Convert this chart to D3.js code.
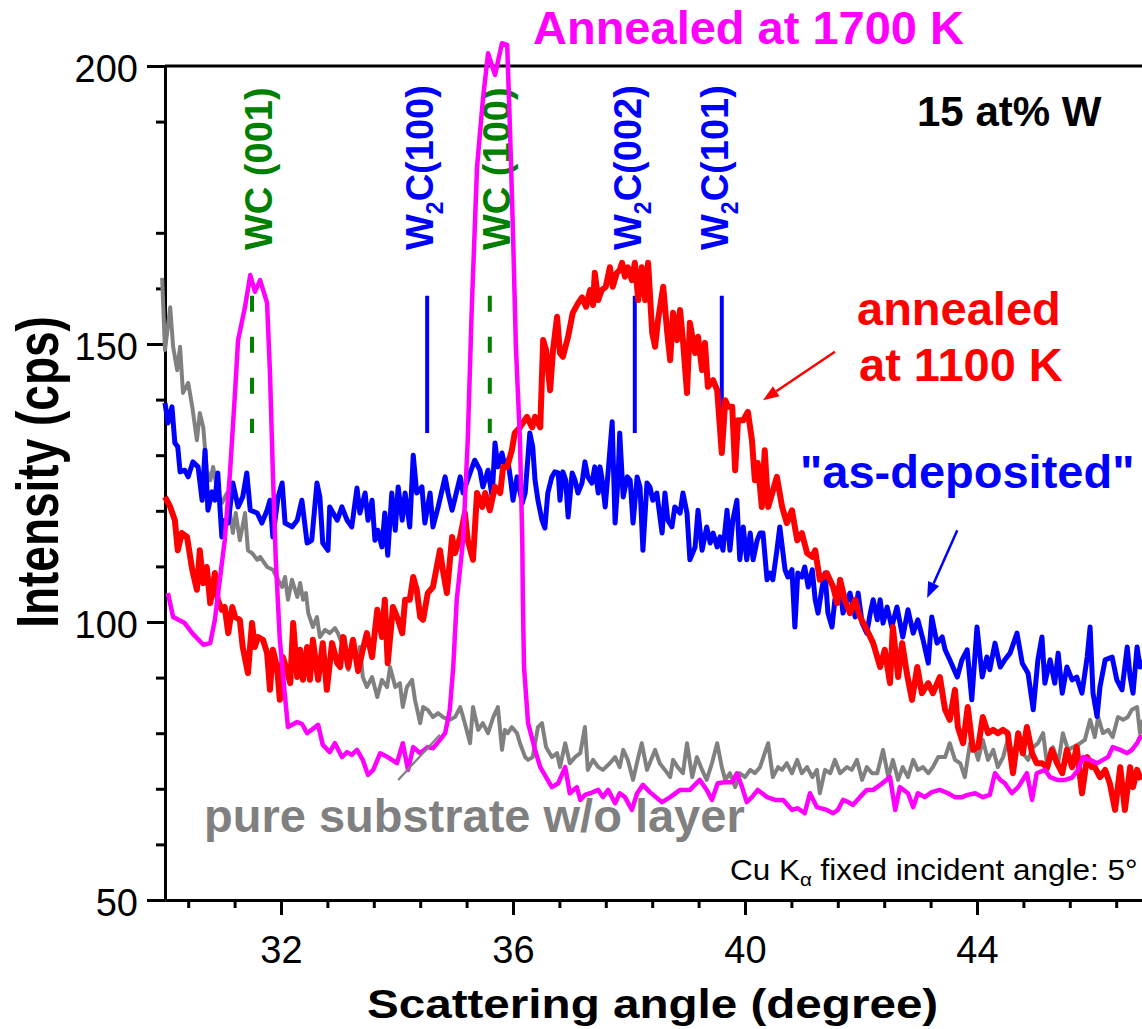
<!DOCTYPE html>
<html>
<head>
<meta charset="utf-8">
<script src="https://cdn.jsdelivr.net/npm/d3@7"></script>
<style>
  body { margin: 0; background: #fff; }
  svg { display: block; }
  text { font-family: "Liberation Sans", Arial, Helvetica, sans-serif; }
</style>
</head>
<body>
<svg id="chart" width="1142" height="1029"></svg>
<script>
// XRD scans, [scattering angle (deg), intensity (cps)]
const asDeposited = [
  [30.00,139.4],[30.05,135.8],[30.12,138.7],[30.17,132.2],[30.22,131.5],[30.26,127.0],[30.34,127.3],[30.40,126.1],[30.48,128.8],[30.57,127.9],
  [30.64,121.9],[30.69,130.9],[30.74,120.1],[30.81,123.4],[30.86,121.9],[30.91,126.8],[30.98,115.3],[31.03,118.3],[31.09,117.8],[31.17,125.0],
  [31.26,120.7],[31.34,122.5],[31.41,126.8],[31.47,120.1],[31.59,119.6],[31.67,117.8],[31.76,120.1],[31.81,121.9],[31.86,115.3],[31.95,122.5],
  [32.02,125.0],[32.07,117.8],[32.19,117.1],[32.28,118.3],[32.36,121.9],[32.45,114.2],[32.53,114.7],[32.62,125.0],[32.67,122.5],[32.72,114.2],
  [32.81,112.9],[32.84,120.7],[32.97,118.3],[33.05,120.7],[33.14,118.3],[33.22,117.1],[33.31,124.1],[33.36,119.6],[33.45,123.2],[33.50,118.3],
  [33.57,121.9],[33.62,114.7],[33.67,116.5],[33.74,113.5],[33.79,119.6],[33.84,112.0],[33.91,123.2],[33.97,116.5],[34.02,124.3],[34.09,118.3],
  [34.14,123.2],[34.22,117.1],[34.28,130.0],[34.34,123.2],[34.43,124.3],[34.48,117.8],[34.57,123.2],[34.62,117.1],[34.71,120.7],[34.83,126.1],
  [34.88,123.2],[34.95,120.1],[35.09,126.1],[35.14,123.2],[35.26,126.8],[35.34,129.1],[35.43,127.3],[35.48,124.3],[35.57,127.3],[35.64,122.5],
  [35.69,132.2],[35.74,127.9],[35.81,130.4],[35.86,127.9],[35.91,129.1],[35.96,125.5],[36.00,121.9],[36.07,126.1],[36.16,121.4],[36.21,123.2],
  [36.29,134.0],[36.34,131.5],[36.38,125.5],[36.43,121.9],[36.50,118.3],[36.55,116.9],[36.60,123.2],[36.67,126.1],[36.72,127.0],[36.78,126.8],
  [36.81,121.9],[36.86,127.0],[36.91,125.5],[36.95,118.9],[37.02,126.8],[37.07,125.5],[37.12,123.2],[37.19,125.0],[37.24,128.8],[37.29,126.1],
  [37.36,125.0],[37.41,127.9],[37.47,123.2],[37.50,127.9],[37.53,126.1],[37.59,120.7],[37.64,127.0],[37.71,136.0],[37.76,117.8],[37.81,125.5],
  [37.84,134.0],[37.90,122.5],[37.97,126.1],[38.02,125.5],[38.07,117.8],[38.14,126.1],[38.19,124.3],[38.24,112.9],[38.31,125.0],[38.36,124.3],
  [38.41,121.9],[38.48,123.2],[38.57,116.0],[38.62,123.2],[38.67,118.3],[38.74,117.1],[38.79,120.7],[38.88,119.6],[38.93,123.2],[39.00,119.6],
  [39.05,111.2],[39.14,113.5],[39.19,120.1],[39.26,112.9],[39.34,117.1],[39.40,114.2],[39.45,116.0],[39.52,113.5],[39.57,115.3],[39.62,112.9],
  [39.69,120.1],[39.74,112.9],[39.79,118.3],[39.86,121.9],[39.91,111.2],[39.97,117.1],[40.03,111.2],[40.09,116.0],[40.14,111.2],[40.21,114.7],
  [40.26,116.0],[40.31,116.0],[40.38,107.6],[40.43,108.8],[40.48,107.6],[40.55,112.9],[40.60,117.1],[40.69,109.4],[40.74,108.1],[40.81,109.4],
  [40.86,99.1],[40.91,108.8],[40.98,108.1],[41.03,109.9],[41.09,106.3],[41.16,109.4],[41.21,104.0],[41.26,101.6],[41.33,106.3],[41.38,108.8],
  [41.43,101.6],[41.50,99.1],[41.55,104.0],[41.64,106.3],[41.69,101.6],[41.76,104.0],[41.81,105.2],[41.90,100.9],[41.95,105.2],[42.02,99.8],
  [42.10,98.0],[42.16,101.6],[42.21,104.0],[42.28,100.4],[42.33,104.0],[42.38,99.8],[42.45,102.7],[42.53,99.1],[42.62,102.7],[42.72,97.3],
  [42.81,102.2],[42.90,98.0],[42.98,100.4],[43.07,96.8],[43.16,92.6],[43.22,100.9],[43.31,96.2],[43.40,97.3],[43.45,95.0],[43.53,93.2],
  [43.66,90.1],[43.74,93.2],[43.83,95.0],[43.91,86.0],[44.00,99.1],[44.09,90.1],[44.17,93.7],[44.22,91.4],[44.31,96.2],[44.40,91.9],
  [44.48,93.2],[44.57,94.4],[44.69,98.0],[44.78,92.6],[44.88,90.8],[44.97,84.2],[45.05,93.2],[45.12,97.3],[45.17,89.0],[45.26,93.2],
  [45.34,89.0],[45.40,94.4],[45.47,87.2],[45.55,91.9],[45.64,89.6],[45.72,90.1],[45.81,87.2],[45.90,93.7],[45.95,99.1],[46.00,87.2],
  [46.07,83.0],[46.12,88.3],[46.21,93.2],[46.33,93.7],[46.41,89.6],[46.50,87.8],[46.59,95.5],[46.64,90.1],[46.69,87.2],[46.76,95.5],
  [46.81,91.9],[46.86,93.2]
];

const annealed1100 = [
  [30.00,122.5],[30.09,120.7],[30.17,118.3],[30.22,112.9],[30.29,116.0],[30.38,115.3],[30.47,109.4],[30.55,105.8],[30.60,112.9],[30.66,107.0],
  [30.72,109.9],[30.78,103.4],[30.86,108.8],[30.91,104.0],[30.98,102.2],[31.03,102.7],[31.09,98.0],[31.16,102.7],[31.21,100.9],[31.29,100.4],
  [31.34,95.5],[31.43,90.8],[31.50,99.8],[31.55,95.5],[31.60,97.3],[31.69,96.8],[31.76,94.4],[31.81,87.8],[31.86,95.0],[31.93,91.9],
  [31.98,86.0],[32.03,93.7],[32.10,91.4],[32.16,89.0],[32.21,99.8],[32.28,90.1],[32.33,95.0],[32.38,89.6],[32.45,95.5],[32.50,89.6],
  [32.55,96.8],[32.64,89.6],[32.72,96.2],[32.79,87.8],[32.88,96.2],[32.97,92.6],[33.02,91.9],[33.07,97.3],[33.16,91.9],[33.24,96.8],
  [33.33,91.2],[33.41,95.0],[33.48,98.0],[33.57,93.7],[33.66,102.2],[33.74,97.3],[33.79,104.0],[33.84,92.6],[33.93,102.7],[34.02,100.4],
  [34.09,98.0],[34.14,104.0],[34.22,104.0],[34.28,108.1],[34.34,105.8],[34.40,100.9],[34.45,100.4],[34.53,105.2],[34.62,106.3],[34.74,112.9],
  [34.79,109.4],[34.86,105.2],[34.95,115.3],[35.00,112.4],[35.09,115.3],[35.17,119.6],[35.22,114.7],[35.31,111.2],[35.38,123.2],[35.47,120.7],
  [35.52,123.2],[35.60,120.1],[35.69,124.3],[35.78,123.2],[35.83,127.9],[35.90,127.9],[35.98,130.9],[36.03,134.0],[36.12,135.0],[36.24,136.9],
  [36.33,135.0],[36.38,136.9],[36.47,135.0],[36.52,150.7],[36.57,148.9],[36.64,141.7],[36.69,148.9],[36.76,154.9],[36.81,148.4],[36.86,147.7],
  [36.95,151.3],[37.03,155.6],[37.12,157.3],[37.19,158.4],[37.26,156.7],[37.33,159.7],[37.38,157.0],[37.41,162.8],[37.47,157.9],[37.53,159.7],
  [37.60,160.3],[37.67,163.8],[37.72,160.3],[37.79,162.8],[37.84,163.3],[37.88,164.6],[37.93,162.1],[37.98,163.8],[38.05,161.5],[38.10,164.6],
  [38.16,157.9],[38.22,163.8],[38.28,157.9],[38.33,164.6],[38.40,152.0],[38.45,149.5],[38.50,154.3],[38.59,160.3],[38.66,152.0],[38.71,147.1],
  [38.76,155.6],[38.83,150.7],[38.88,156.1],[38.93,150.7],[39.00,141.2],[39.05,153.8],[39.14,148.4],[39.19,151.3],[39.26,145.3],[39.31,150.2],
  [39.36,142.3],[39.45,143.5],[39.52,141.7],[39.60,130.4],[39.66,139.9],[39.71,138.7],[39.78,138.7],[39.83,127.3],[39.88,136.3],[39.97,136.3],
  [40.05,137.8],[40.12,132.7],[40.17,125.5],[40.22,128.6],[40.29,120.7],[40.34,130.9],[40.40,120.7],[40.47,123.2],[40.55,126.1],[40.64,120.7],
  [40.72,117.8],[40.81,120.1],[40.90,114.7],[40.98,116.0],[41.07,112.4],[41.16,111.7],[41.21,112.9],[41.29,107.6],[41.41,108.8],[41.52,106.3],
  [41.59,103.4],[41.64,107.6],[41.72,104.0],[41.81,101.6],[41.90,104.0],[41.98,101.0],[42.10,98.6],[42.21,96.2],[42.33,91.9],[42.41,95.0],
  [42.50,89.0],[42.55,99.1],[42.64,90.1],[42.71,96.2],[42.79,90.8],[42.88,86.0],[42.97,91.9],[43.05,87.2],[43.16,89.0],[43.24,87.2],
  [43.36,90.1],[43.45,84.2],[43.53,82.4],[43.62,87.8],[43.67,81.1],[43.76,78.2],[43.84,84.7],[43.93,77.0],[44.02,77.5],[44.10,82.9],
  [44.19,80.0],[44.28,80.6],[44.36,80.0],[44.45,80.6],[44.53,80.0],[44.62,72.8],[44.71,80.0],[44.79,76.4],[44.86,81.1],[44.95,76.4],
  [45.03,74.6],[45.12,74.6],[45.21,73.9],[45.29,77.0],[45.38,74.6],[45.47,72.8],[45.55,77.0],[45.64,73.9],[45.72,77.5],[45.81,69.2],
  [45.90,75.7],[45.98,73.9],[46.03,73.9],[46.12,72.1],[46.21,73.4],[46.29,71.0],[46.38,66.2],[46.47,73.9],[46.55,66.2],[46.64,73.9],
  [46.69,70.3],[46.76,73.4],[46.83,71.6]
];

const annealed1700 = [
  [30.05,105.2],[30.14,100.9],[30.34,99.8],[30.47,98.0],[30.66,95.9],[30.78,96.2],[30.86,100.4],[31.03,114.7],[31.12,126.8],[31.21,141.7],
  [31.26,150.7],[31.38,156.7],[31.47,162.4],[31.55,159.4],[31.64,161.5],[31.76,157.4],[31.81,144.8],[31.86,126.8],[31.91,111.2],[31.98,96.8],
  [32.07,86.5],[32.12,81.1],[32.28,82.0],[32.36,81.7],[32.45,80.0],[32.64,81.5],[32.72,77.9],[32.84,76.6],[32.93,78.2],[33.05,75.7],
  [33.14,76.6],[33.22,76.1],[33.31,77.0],[33.41,75.2],[33.50,72.5],[33.59,73.4],[33.71,76.4],[33.84,75.7],[34.00,74.6],[34.10,78.2],
  [34.19,73.4],[34.28,77.5],[34.40,76.4],[34.53,77.5],[34.62,77.3],[34.74,78.8],[34.83,80.0],[34.91,84.2],[34.97,91.9],[35.03,104.0],
  [35.14,114.7],[35.22,132.7],[35.29,156.7],[35.38,181.8],[35.48,193.9],[35.57,202.3],[35.69,198.4],[35.81,204.1],[35.90,203.8],[35.95,188.0],
  [36.00,170.0],[36.05,149.5],[36.12,132.7],[36.16,114.7],[36.17,104.0],[36.19,91.9],[36.26,81.8],[36.38,77.0],[36.47,73.9],[36.67,70.3],
  [36.78,71.0],[36.90,73.9],[36.98,69.2],[37.10,70.3],[37.16,68.0],[37.24,68.9],[37.33,69.2],[37.47,69.8],[37.55,68.5],[37.64,69.8],
  [37.76,67.4],[37.84,69.2],[37.93,68.5],[38.05,66.2],[38.14,69.2],[38.24,70.7],[38.36,69.4],[38.57,67.6],[38.71,68.5],[38.88,69.8],
  [39.05,69.8],[39.22,71.6],[39.34,69.8],[39.43,68.0],[39.53,71.0],[39.66,71.2],[39.78,71.2],[39.86,72.8],[39.95,70.3],[40.03,67.6],
  [40.12,68.5],[40.22,69.8],[40.38,68.5],[40.52,68.0],[40.66,68.0],[40.81,66.2],[40.91,66.5],[41.03,65.6],[41.12,69.2],[41.24,66.7],
  [41.41,66.2],[41.52,65.6],[41.60,66.2],[41.69,68.0],[41.78,67.6],[41.86,67.1],[41.98,68.5],[42.10,69.8],[42.21,69.8],[42.33,70.7],
  [42.50,72.1],[42.59,66.2],[42.67,70.3],[42.81,69.2],[42.90,66.7],[42.98,69.2],[43.10,68.5],[43.22,69.4],[43.36,69.8],[43.50,69.2],
  [43.62,68.5],[43.74,68.5],[43.84,68.9],[43.97,69.2],[44.10,68.5],[44.22,68.9],[44.31,72.8],[44.40,71.6],[44.48,71.0],[44.60,69.2],
  [44.71,70.3],[44.86,72.8],[44.95,68.0],[45.03,72.8],[45.17,73.4],[45.26,72.1],[45.38,71.6],[45.52,71.6],[45.64,72.0],[45.74,73.4],
  [45.83,75.7],[45.95,75.2],[46.07,74.6],[46.17,75.2],[46.26,75.7],[46.34,77.5],[46.47,77.0],[46.59,76.4],[46.67,77.0],[46.76,78.2],
  [46.81,79.3],[46.86,79.3]
];

const substrate = [
  [29.95,161.9],[30.00,148.9],[30.09,156.6],[30.14,149.5],[30.21,145.3],[30.26,149.5],[30.31,141.2],[30.40,143.0],[30.47,138.7],[30.55,132.7],
  [30.60,137.6],[30.66,135.0],[30.72,127.3],[30.78,125.5],[30.83,127.9],[30.90,123.7],[30.98,121.4],[31.07,123.2],[31.12,119.6],[31.17,116.0],
  [31.22,119.6],[31.29,114.7],[31.38,119.6],[31.43,112.9],[31.50,112.4],[31.59,111.2],[31.64,111.7],[31.76,109.9],[31.86,109.4],[31.95,107.6],
  [32.02,106.3],[32.07,108.1],[32.12,104.0],[32.19,107.6],[32.28,104.5],[32.33,107.0],[32.38,104.0],[32.43,105.2],[32.47,101.6],[32.55,99.1],
  [32.62,100.9],[32.67,97.3],[32.76,98.6],[32.84,98.0],[32.93,98.9],[32.98,98.0],[33.05,96.2],[33.10,97.3],[33.16,91.4],[33.24,96.2],
  [33.33,91.9],[33.36,95.5],[33.41,90.1],[33.48,88.3],[33.57,90.1],[33.66,86.5],[33.74,89.6],[33.83,88.3],[33.88,91.9],[33.97,88.3],
  [34.05,89.0],[34.10,84.7],[34.17,88.3],[34.26,89.6],[34.31,86.0],[34.40,81.8],[34.45,84.7],[34.53,84.2],[34.62,82.9],[34.71,83.6],
  [34.79,82.9],[34.91,82.4],[35.00,82.9],[35.09,84.7],[35.17,81.8],[35.26,78.2],[35.31,84.7],[35.40,80.6],[35.48,81.8],[35.57,80.0],
  [35.66,82.9],[35.74,84.7],[35.81,77.0],[35.86,80.6],[35.91,80.0],[35.98,81.1],[36.07,80.0],[36.12,78.2],[36.21,75.7],[36.26,75.2],
  [36.34,75.7],[36.43,81.1],[36.50,81.8],[36.57,77.5],[36.67,75.7],[36.76,76.4],[36.81,73.9],[36.90,78.2],[36.98,74.6],[37.07,75.7],
  [37.16,76.4],[37.24,81.1],[37.29,73.4],[37.38,75.2],[37.47,73.9],[37.55,73.4],[37.67,74.6],[37.76,75.7],[37.84,73.9],[37.90,77.0],
  [37.98,75.2],[38.07,71.6],[38.16,75.7],[38.22,78.2],[38.31,73.4],[38.40,75.7],[38.45,77.0],[38.53,74.6],[38.62,73.4],[38.71,72.1],
  [38.76,75.2],[38.84,73.9],[38.93,72.8],[39.00,78.2],[39.09,72.1],[39.17,75.7],[39.26,73.4],[39.34,71.6],[39.43,74.6],[39.52,78.2],
  [39.60,73.9],[39.66,71.6],[39.74,72.8],[39.83,70.3],[39.91,72.8],[40.00,72.1],[40.09,73.4],[40.17,72.8],[40.26,73.9],[40.34,76.4],
  [40.40,78.2],[40.48,72.1],[40.57,73.9],[40.64,73.4],[40.72,74.6],[40.81,72.8],[40.90,75.2],[40.98,72.8],[41.07,73.9],[41.16,72.1],
  [41.24,73.4],[41.29,69.2],[41.38,73.4],[41.47,72.8],[41.55,75.2],[41.64,72.8],[41.76,73.9],[41.84,73.4],[41.93,75.2],[42.02,71.6],
  [42.10,73.9],[42.19,72.8],[42.28,72.8],[42.38,77.0],[42.47,72.1],[42.55,75.2],[42.64,71.6],[42.72,73.9],[42.81,72.1],[42.90,75.2],
  [42.98,73.4],[43.07,73.9],[43.16,72.8],[43.24,73.9],[43.33,75.7],[43.45,75.7],[43.53,78.2],[43.62,75.2],[43.71,74.6],[43.79,72.1],
  [43.88,78.2],[43.97,77.0],[44.02,75.2],[44.10,78.8],[44.19,75.2],[44.28,77.0],[44.36,73.9],[44.45,75.7],[44.53,78.8],[44.62,76.4],
  [44.71,78.8],[44.79,76.4],[44.88,75.2],[44.97,77.5],[45.05,78.2],[45.14,80.0],[45.22,73.4],[45.31,77.5],[45.40,74.6],[45.48,80.0],
  [45.57,77.0],[45.66,77.5],[45.78,78.2],[45.86,78.8],[45.95,82.4],[46.03,79.3],[46.09,82.9],[46.17,80.0],[46.26,80.6],[46.34,79.3],
  [46.43,82.9],[46.52,82.4],[46.60,82.9],[46.67,84.2],[46.76,84.7],[46.81,80.0],[46.86,82.4]
];

// Reference reflections (deg) marked above the scans
const peakPhases = ["WC", "W2C", "WC", "W2C", "W2C"];
const peakHkl = ["(001)", "(100)", "(100)", "(002)", "(101)"];
const peakAngles = [31.5, 34.52, 35.6, 38.1, 39.6];
const peakMarkRange = [134, 158.7];

const xMajorTicks = [32, 36, 40, 44];
const xMinorTicks = [30.4, 31.2, 32.8, 33.6, 34.4, 35.2, 36.8, 37.6, 38.4, 39.2, 40.8, 41.6, 42.4, 43.2, 44.8, 45.6, 46.4];
const yMajorTicks = [50, 100, 150, 200];
const yMinorTicks = [60, 70, 80, 90, 110, 120, 130, 140, 160, 170, 190];

const svg = d3.select("#chart");
const x = d3.scaleLinear().domain([30, 47]).range([165, 1151]);
const y = d3.scaleLinear().domain([50, 200]).range([900, 66]);

const phaseColor = { WC: "#008000", W2C: "#0000ff" };

// ---- axes ----
function styleAxis(g) {
  g.selectAll("path.domain").attr("stroke", "#000").attr("stroke-width", 3);
  g.selectAll(".tick line").attr("stroke", "#000").attr("stroke-width", 3);
  g.selectAll(".tick text")
    .attr("fill", "#000")
    .attr("font-size", 38)
    .attr("font-family", '"Liberation Sans", Arial, sans-serif');
}

svg.append("g").attr("transform", "translate(0,900)")
  .call(d3.axisBottom(x).tickValues(xMinorTicks).tickSize(8).tickSizeOuter(0).tickFormat(""))
  .call(styleAxis);
svg.append("g").attr("transform", "translate(0,900)")
  .call(d3.axisBottom(x).tickValues(xMajorTicks).tickSize(15).tickSizeOuter(0).tickPadding(21).tickFormat(d3.format("d")))
  .call(styleAxis);

svg.append("g").attr("transform", "translate(165,0)")
  .call(d3.axisLeft(y).tickValues(yMinorTicks).tickSize(9).tickSizeOuter(0).tickFormat(""))
  .call(styleAxis);
const gy = svg.append("g").attr("transform", "translate(165,0)")
  .call(d3.axisLeft(y).tickValues(yMajorTicks).tickSize(18).tickSizeOuter(0).tickPadding(9).tickFormat(d3.format("d")))
  .call(styleAxis);
gy.selectAll(".tick text").attr("dy", "0.42em");

// top frame
svg.append("line")
  .attr("x1", x(30)).attr("x2", 1142)
  .attr("y1", y(200)).attr("y2", y(200))
  .attr("stroke", "#000").attr("stroke-width", 3);

// axis titles
svg.append("text")
  .attr("transform", "translate(367,1018) scale(1.19,1)")
  .attr("font-size", 40).attr("font-weight", "bold").attr("fill", "#000")
  .text("Scattering angle (degree)");

svg.append("text")
  .attr("transform", "translate(58,472) scale(1.3,1) rotate(-90)")
  .attr("text-anchor", "middle")
  .attr("font-size", 46).attr("font-weight", "bold").attr("fill", "#000")
  .text("Intensity (cps)");

// ---- reflection markers ----
const peaks = peakAngles.map((a, i) => ({ angle: a, phase: peakPhases[i], hkl: peakHkl[i] }));

svg.append("g").selectAll("line").data(peaks).join("line")
  .attr("x1", d => x(d.angle)).attr("x2", d => x(d.angle))
  .attr("y1", y(peakMarkRange[1])).attr("y2", y(peakMarkRange[0]))
  .attr("stroke", d => phaseColor[d.phase])
  .attr("stroke-width", 4)
  .attr("stroke-dasharray", d => d.phase === "WC" ? "16,25" : null);

const labelShift = { WC: 20, W2C: 6 };
const labels = svg.append("g").selectAll("text").data(peaks).join("text")
  .attr("transform", d => `translate(${x(d.angle) + labelShift[d.phase]},250) rotate(-90)`)
  .attr("font-size", 38).attr("font-weight", "bold")
  .attr("fill", d => phaseColor[d.phase]);
labels.each(function (d) {
  const t = d3.select(this);
  if (d.phase === "WC") {
    t.text("WC " + d.hkl);
  } else {
    t.append("tspan").text("W");
    t.append("tspan").attr("font-size", 23).attr("dy", 10).text("2");
    t.append("tspan").attr("dy", -10).text("C" + d.hkl);
  }
});

// ---- scans ----
const line = d3.line().x(d => x(d[0])).y(d => y(d[1]));
const series = [
  { data: substrate, color: "#808080", width: 4 },
  { data: asDeposited, color: "#0000ff", width: 5 },
  { data: annealed1100, color: "#ff0000", width: 6 },
  { data: annealed1700, color: "#ff00ff", width: 4.5 }
];
svg.append("g").selectAll("path").data(series).join("path")
  .attr("d", d => line(d.data))
  .attr("fill", "none")
  .attr("stroke", d => d.color)
  .attr("stroke-width", d => d.width)
  .attr("stroke-linejoin", "round");

// ---- annotations ----
function arrow(from, to, color) {
  const x1 = x(from[0]), y1 = y(from[1]), x2 = x(to[0]), y2 = y(to[1]);
  const ang = Math.atan2(y2 - y1, x2 - x1);
  const len = 16, half = 6;
  const bx = x2 - len * Math.cos(ang), by = y2 - len * Math.sin(ang);
  svg.append("line")
    .attr("x1", x1).attr("y1", y1).attr("x2", bx).attr("y2", by)
    .attr("stroke", color).attr("stroke-width", 2.5);
  svg.append("polygon")
    .attr("points", [
      [x2, y2],
      [bx + half * Math.sin(ang), by - half * Math.cos(ang)],
      [bx - half * Math.sin(ang), by + half * Math.cos(ang)]
    ].map(p => p.join(",")).join(" "))
    .attr("fill", color);
}
arrow([41.55, 148.6], [40.31, 139.9], "#ff0000");
arrow([43.66, 116.5], [43.14, 104.3], "#0000ff");

svg.append("line")
  .attr("x1", x(34.02)).attr("y1", y(71.6))
  .attr("x2", x(34.74)).attr("y2", y(79.7))
  .attr("stroke", "#808080").attr("stroke-width", 2.2);

const bold = (sel) => sel.attr("font-weight", "bold");

svg.append("text").attr("x", 533).attr("y", 44)
  .attr("font-size", 47).attr("fill", "#ff00ff").call(bold)
  .text("Annealed at 1700 K");

svg.append("text").attr("x", 917).attr("y", 126)
  .attr("font-size", 42).attr("fill", "#000").call(bold)
  .text("15 at% W");

svg.append("text").attr("x", 857).attr("y", 325)
  .attr("font-size", 47).attr("fill", "#ff0000").call(bold)
  .text("annealed");
svg.append("text").attr("x", 859).attr("y", 381)
  .attr("font-size", 47).attr("fill", "#ff0000").call(bold)
  .text("at 1100 K");

svg.append("text").attr("x", 800).attr("y", 488)
  .attr("font-size", 47).attr("fill", "#0000ff").call(bold)
  .text("\"as-deposited\"");

svg.append("text").attr("x", 204).attr("y", 832)
  .attr("font-size", 47).attr("fill", "#808080").call(bold)
  .text("pure substrate w/o layer");

const cu = svg.append("text")
  .attr("transform", "translate(730,880) scale(1.085,1)")
  .attr("font-size", 29).attr("fill", "#000");
cu.append("tspan").text("Cu K");
cu.append("tspan").attr("font-size", 19).attr("dy", 6).text("α");
cu.append("tspan").attr("dy", -6).text(" fixed incident angle: 5°");
</script>
</body>
</html>
